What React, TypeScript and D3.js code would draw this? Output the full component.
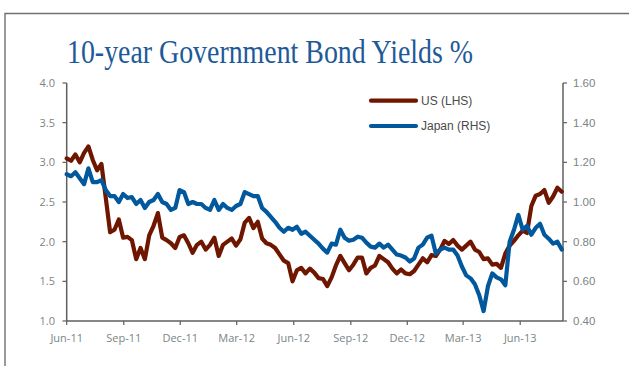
import React from "react";
import * as d3 from "d3";

// Weekly observations starting 2011-06-01
const startDate = "2011-06-01";
const endDate = "2013-08-09";

const usYield = [
  3.05, 3.02, 3.1, 3.0, 3.12, 3.2, 3.03, 2.9, 2.98, 2.55,
  2.12, 2.15, 2.28, 2.05, 2.06, 2.02, 1.78, 1.92, 1.78, 2.08,
  2.2, 2.36, 2.05, 2.02, 1.98, 1.92, 2.06, 2.08, 1.98, 1.86,
  1.96, 2.0, 1.9, 1.96, 2.05, 1.82, 1.96, 2.0, 2.04, 1.95,
  2.03, 2.24, 2.3, 2.17, 2.25, 2.04, 1.98, 1.96, 1.92, 1.84,
  1.76, 1.73, 1.5, 1.64, 1.67, 1.6, 1.66, 1.61, 1.54, 1.53,
  1.44, 1.55, 1.7, 1.82, 1.73, 1.64, 1.71, 1.8, 1.8, 1.6,
  1.67, 1.7, 1.82, 1.78, 1.74, 1.66, 1.6, 1.65, 1.6, 1.59,
  1.63, 1.71, 1.79, 1.74, 1.83, 1.82, 1.9, 2.01, 1.97, 2.02,
  1.95, 1.9, 1.95, 2.0, 1.9, 1.87, 1.78, 1.79, 1.71, 1.72,
  1.67, 1.85, 1.95, 2.01, 2.08, 2.14, 2.11, 2.45, 2.58, 2.6,
  2.65, 2.49, 2.57, 2.68, 2.63,
];

const japanYield = [
  1.14, 1.13, 1.15, 1.12, 1.09, 1.17, 1.1, 1.1, 1.11, 1.06,
  1.03, 1.03, 1.0, 1.04, 1.02, 1.025, 0.99, 1.01, 0.97, 1.0,
  1.01, 1.04, 1.0, 0.99, 0.96, 0.97, 1.06, 1.05, 0.99, 1.0,
  0.99, 0.99, 0.97, 0.96, 1.01, 0.96, 0.99, 0.97, 0.96, 0.98,
  0.99, 1.05, 1.04, 1.03, 1.03, 0.97, 0.95, 0.925, 0.9, 0.87,
  0.85, 0.87, 0.86, 0.875, 0.84, 0.85, 0.83, 0.81, 0.79, 0.765,
  0.745, 0.79, 0.785, 0.86, 0.82, 0.805, 0.81, 0.825, 0.82, 0.795,
  0.775, 0.77, 0.79, 0.77, 0.785, 0.76, 0.735, 0.73, 0.72, 0.7,
  0.715, 0.77, 0.785, 0.82, 0.83, 0.74, 0.76, 0.77, 0.76, 0.76,
  0.73, 0.675, 0.63, 0.615, 0.585, 0.53, 0.45, 0.575, 0.64, 0.62,
  0.61, 0.58, 0.8, 0.86, 0.935, 0.86, 0.88, 0.835, 0.87, 0.89,
  0.835, 0.815, 0.79, 0.8, 0.76,
];

const leftTicks = [1.0, 1.5, 2.0, 2.5, 3.0, 3.5, 4.0];
const rightTicks = [0.4, 0.6, 0.8, 1.0, 1.2, 1.4, 1.6];
const xTickLabels = ["Jun-11", "Sep-11", "Dec-11", "Mar-12", "Jun-12", "Sep-12", "Dec-12", "Mar-13", "Jun-13"];
const title = "10-year Government Bond Yields %";
const seriesNames = ["US (LHS)", "Japan (RHS)"];
const colors = ["#6e1600", "#02589c"];

export default function App() {
  const W = 629, H = 366;
  const parse = d3.timeParse("%Y-%m-%d");
  const start = parse(startDate) as Date;
  const end = parse(endDate) as Date;
  const dates = usYield.map((_, i) => d3.timeDay.offset(start, i * 7));

  const x = d3.scaleTime().domain([start, end]).range([66.7, 563]);
  const yL = d3.scaleLinear().domain([1, 4]).range([321, 83]);
  const yR = d3.scaleLinear().domain([0.4, 1.6]).range([321, 83]);

  const tickDates = xTickLabels.map((t) => d3.timeParse("%b-%y")(t) as Date);
  const fmt = d3.timeFormat("%b-%y");

  const usLine = d3.line<number>().x((_, i) => x(dates[i])).y((d) => yL(d))(usYield) || "";
  const jpLine = d3.line<number>().x((_, i) => x(dates[i])).y((d) => yR(d))(japanYield) || "";

  const axisColor = "#5f5f5f";
  const labelColor = "#7a8585";
  const tickFont = "'Open Sans', 'Liberation Sans', sans-serif";
  const sw = 4.2;

  return (
    <div style={{ position: "absolute", left: 0, top: 0 }}>
      <svg width={W} height={H} style={{ display: "block", background: "#fff" }}>
        <path d={`M5,${H} L5,13.5 L${W},13.5`} fill="none" stroke="#707070" strokeWidth={1.4} />
        <text x={270} y={63} textAnchor="middle" fill="#1e5a98"
          fontFamily="'Liberation Serif', 'DejaVu Serif', serif" fontSize={33}
          textLength={406} lengthAdjust="spacingAndGlyphs">{title}</text>

        {/* axes */}
        <line x1={x.range()[0]} x2={x.range()[0]} y1={83} y2={321} stroke={axisColor} strokeWidth={1.5} />
        <line x1={x.range()[1]} x2={x.range()[1]} y1={83} y2={321} stroke={axisColor} strokeWidth={1.5} />
        <line x1={x.range()[0]} x2={x.range()[1]} y1={321} y2={321} stroke={axisColor} strokeWidth={1.5} />

        {leftTicks.map((t) => (
          <g key={"l" + t}>
            <line x1={62.5} x2={66.7} y1={yL(t)} y2={yL(t)} stroke={axisColor} strokeWidth={1.2} />
            <text x={55} y={yL(t)} dy="0.35em" textAnchor="end" fill={labelColor}
              fontFamily={tickFont} fontSize={11}>{t.toFixed(1)}</text>
          </g>
        ))}
        {rightTicks.map((t) => (
          <g key={"r" + t}>
            <line x1={563} x2={567} y1={yR(t)} y2={yR(t)} stroke={axisColor} strokeWidth={1.2} />
            <text x={573} y={yR(t)} dy="0.35em" textAnchor="start" fill={labelColor}
              fontFamily="'Liberation Sans', Arial, sans-serif" fontSize={11.5}>{t.toFixed(2)}</text>
          </g>
        ))}
        {tickDates.map((d, i) => (
          <g key={"x" + i}>
            <line x1={x(d)} x2={x(d)} y1={321} y2={325} stroke={axisColor} strokeWidth={1.2} />
            <text x={x(d)} y={342} textAnchor="middle" fill={labelColor}
              fontFamily={tickFont} fontSize={11}>{fmt(d)}</text>
          </g>
        ))}

        <path d={usLine} fill="none" stroke={colors[0]} strokeWidth={sw} strokeLinejoin="round" strokeLinecap="round" />
        <path d={jpLine} fill="none" stroke={colors[1]} strokeWidth={sw} strokeLinejoin="round" strokeLinecap="round" />

        {seriesNames.map((n, i) => (
          <g key={n}>
            <line x1={371} x2={416} y1={100.7 + i * 25.3} y2={100.7 + i * 25.3}
              stroke={colors[i]} strokeWidth={sw} strokeLinecap="round" />
            <text x={421} y={100.7 + i * 25.3} dy="0.36em" fill="#4a4a4a"
              fontFamily="'Liberation Sans', Arial, sans-serif" fontSize={12}>{n}</text>
          </g>
        ))}
      </svg>
    </div>
  );
}
